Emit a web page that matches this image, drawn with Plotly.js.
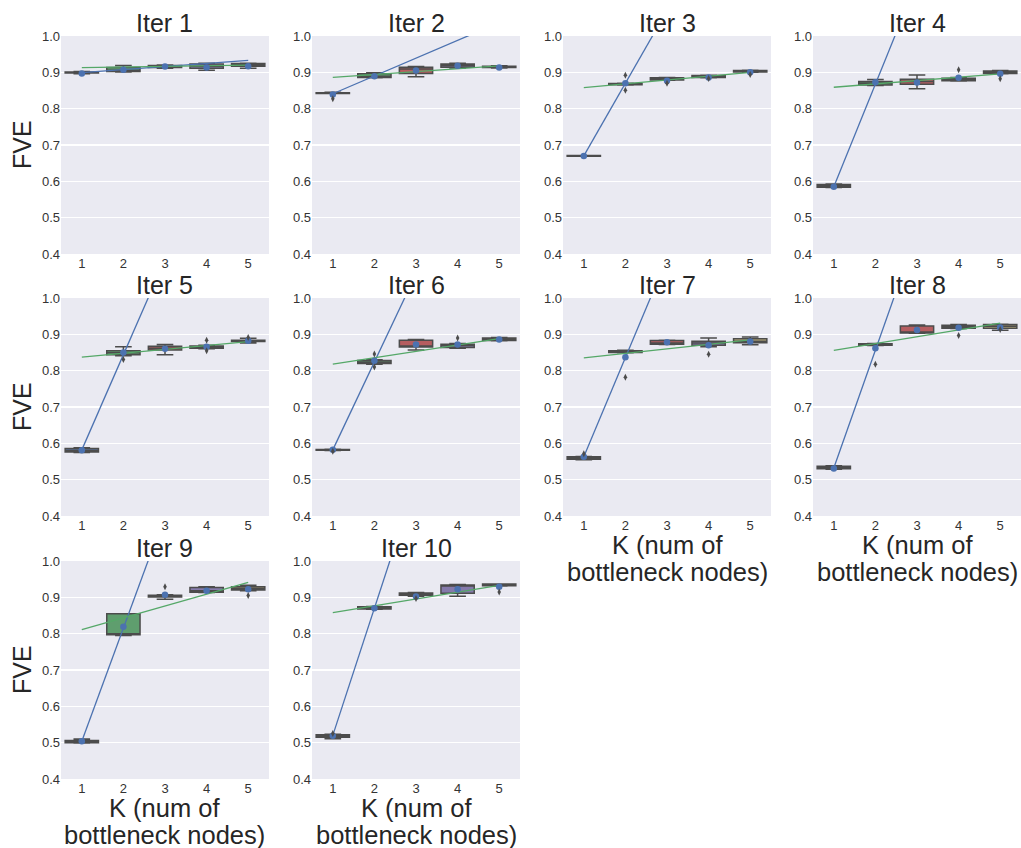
<!DOCTYPE html>
<html>
<head>
<meta charset="utf-8">
<script src="https://cdn.plot.ly/plotly-3.0.1.min.js"></script>
<style>html,body{margin:0;padding:0;background:#fff;}#chart{width:1021px;height:848px;}</style>
</head>
<body>
<div id="chart"></div>
<script>
// ---------------- data ----------------
const iterTitles = ['Iter 1','Iter 2','Iter 3','Iter 4','Iter 5','Iter 6','Iter 7','Iter 8','Iter 9','Iter 10'];
const kValues = [1, 2, 3, 4, 5];
const kLabels = ['1', '2', '3', '4', '5'];
const yTickVals = [0.4, 0.5, 0.6, 0.7, 0.8, 0.9, 1.0];
const yTickText = ['0.4', '0.5', '0.6', '0.7', '0.8', '0.9', '1.0'];
const yLabel = 'FVE';
const xLabelLine1 = 'K (num of';
const xLabelLine2 = 'bottleneck nodes)';

// per iteration, per K (1..5)
const q1 = [
  [0.898, 0.902, 0.913, 0.911, 0.917],
  [0.842, 0.886, 0.897, 0.914, 0.913],
  [0.669, 0.866, 0.879, 0.886, 0.901],
  [0.584, 0.865, 0.867, 0.877, 0.897],
  [0.576, 0.844, 0.857, 0.862, 0.880],
  [0.581, 0.820, 0.865, 0.864, 0.883],
  [0.556, 0.850, 0.873, 0.870, 0.877],
  [0.530, 0.870, 0.904, 0.917, 0.917],
  [0.500, 0.797, 0.901, 0.914, 0.920],
  [0.515, 0.868, 0.906, 0.911, 0.932]
];
const medians = [
  [0.899, 0.906, 0.916, 0.917, 0.920],
  [0.843, 0.889, 0.909, 0.919, 0.914],
  [0.670, 0.867, 0.880, 0.889, 0.903],
  [0.587, 0.870, 0.875, 0.880, 0.900],
  [0.580, 0.849, 0.862, 0.865, 0.882],
  [0.582, 0.823, 0.867, 0.869, 0.887],
  [0.559, 0.851, 0.876, 0.876, 0.881],
  [0.533, 0.872, 0.906, 0.921, 0.922],
  [0.503, 0.798, 0.903, 0.918, 0.924],
  [0.519, 0.870, 0.907, 0.931, 0.933]
];
const q3 = [
  [0.901, 0.913, 0.919, 0.923, 0.924],
  [0.844, 0.896, 0.914, 0.923, 0.917],
  [0.671, 0.869, 0.885, 0.891, 0.905],
  [0.591, 0.875, 0.881, 0.884, 0.904],
  [0.586, 0.855, 0.867, 0.868, 0.884],
  [0.583, 0.828, 0.884, 0.873, 0.890],
  [0.563, 0.855, 0.883, 0.881, 0.888],
  [0.537, 0.874, 0.923, 0.925, 0.927],
  [0.506, 0.855, 0.906, 0.927, 0.929],
  [0.522, 0.874, 0.912, 0.934, 0.937]
];
const whiskerLow = [
  [0.896, 0.901, 0.911, 0.906, 0.911],
  [0.842, 0.885, 0.888, 0.912, 0.912],
  [0.669, 0.865, 0.878, 0.885, 0.900],
  [0.583, 0.864, 0.855, 0.876, 0.896],
  [0.575, 0.841, 0.844, 0.860, 0.876],
  [0.580, 0.818, 0.857, 0.862, 0.882],
  [0.555, 0.849, 0.872, 0.866, 0.871],
  [0.529, 0.869, 0.903, 0.916, 0.911],
  [0.499, 0.795, 0.895, 0.913, 0.918],
  [0.511, 0.867, 0.903, 0.903, 0.931]
];
const whiskerHigh = [
  [0.902, 0.919, 0.920, 0.925, 0.925],
  [0.845, 0.899, 0.916, 0.925, 0.918],
  [0.671, 0.870, 0.886, 0.892, 0.906],
  [0.593, 0.880, 0.893, 0.886, 0.905],
  [0.588, 0.866, 0.872, 0.870, 0.889],
  [0.584, 0.830, 0.886, 0.875, 0.891],
  [0.564, 0.856, 0.884, 0.890, 0.893],
  [0.538, 0.875, 0.926, 0.927, 0.928],
  [0.510, 0.855, 0.907, 0.929, 0.933],
  [0.523, 0.875, 0.913, 0.935, 0.937]
];
const means = [
  [0.897, 0.907, 0.916, 0.913, 0.917],
  [0.839, 0.889, 0.905, 0.918, 0.913],
  [0.670, 0.870, 0.877, 0.886, 0.900],
  [0.585, 0.873, 0.872, 0.885, 0.896],
  [0.581, 0.850, 0.860, 0.866, 0.882],
  [0.582, 0.827, 0.872, 0.872, 0.886],
  [0.563, 0.837, 0.878, 0.870, 0.880],
  [0.531, 0.862, 0.912, 0.918, 0.919],
  [0.504, 0.819, 0.907, 0.918, 0.922],
  [0.519, 0.870, 0.902, 0.922, 0.929]
];
const outlierK = [
  [],
  [1],
  [2, 2, 3, 4, 5],
  [4, 5],
  [2, 4, 4, 5],
  [1, 2, 2, 4],
  [1, 2, 4],
  [2, 4, 5],
  [3, 5],
  [1, 3, 5]
];
const outlierVal = [
  [],
  [0.827],
  [0.892, 0.851, 0.870, 0.883, 0.894],
  [0.907, 0.882],
  [0.831, 0.884, 0.855, 0.891],
  [0.578, 0.846, 0.810, 0.890],
  [0.571, 0.782, 0.845],
  [0.818, 0.897, 0.913],
  [0.929, 0.905],
  [0.525, 0.897, 0.915]
];
// fit lines, values at K=1 and K=5
const fitX = [1, 5];
const blueFit = [
  [0.899, 0.933], [0.841, 1.037], [0.670, 1.470], [0.585, 1.715], [0.582, 1.630],
  [0.582, 1.550], [0.563, 1.655], [0.532, 1.830], [0.504, 1.750], [0.520, 1.920]
];
const greenFit = [
  [0.913, 0.920], [0.886, 0.918], [0.858, 0.900], [0.859, 0.896], [0.837, 0.880],
  [0.818, 0.888], [0.835, 0.885], [0.856, 0.931], [0.811, 0.941], [0.858, 0.933]
];

// ---------------- styles / layout ----------------
const W = 1021, H = 848;
const boxColors = ['#5975A4', '#5F9E6E', '#B55D60', '#857AAB', '#C1B37F'];
const edgeGray = '#4c4c4c';
const colPx = [61, 312, 563, 813];
const rowPx = [36, 298, 561];
const plotW = 208, plotH = 218;
const FONT = '"Liberation Sans", Arial, sans-serif';
const textColor = '#262626';
const tickColor = '#333333';
const xLabelPanels = [6, 7, 8, 9];

const traces = [];
const layout = {
  width: W, height: H,
  margin: {l: 0, r: 0, t: 0, b: 0},
  paper_bgcolor: '#ffffff',
  plot_bgcolor: '#EAEAF2',
  showlegend: false,
  boxmode: 'overlay',
  font: {family: FONT, color: textColor},
  annotations: []
};

iterTitles.forEach((title, i) => {
  const row = Math.floor(i / 4), col = i % 4;
  const x0 = colPx[col] / W, x1 = (colPx[col] + plotW) / W;
  const yTop = 1 - rowPx[row] / H, yBot = 1 - (rowPx[row] + plotH) / H;
  const n = i + 1;
  const xa = 'x' + (n === 1 ? '' : n), ya = 'y' + (n === 1 ? '' : n);
  layout['xaxis' + (n === 1 ? '' : n)] = {
    domain: [x0, x1], anchor: ya, range: [0.5, 5.5],
    tickvals: kValues, ticktext: kLabels, showgrid: false, zeroline: false,
    showline: false, ticks: '', tickfont: {size: 13, color: tickColor, family: FONT}, fixedrange: true
  };
  layout['yaxis' + (n === 1 ? '' : n)] = {
    domain: [yBot, yTop], anchor: xa, range: [0.4, 1.0],
    tickvals: yTickVals, ticktext: yTickText, showgrid: true, gridcolor: '#ffffff', gridwidth: 1.3,
    zeroline: false, showline: false, ticks: '', tickfont: {size: 13, color: tickColor, family: FONT}, fixedrange: true
  };
  // boxes
  kValues.forEach((k, j) => {
    traces.push({
      type: 'box', xaxis: xa, yaxis: ya, x: [k],
      q1: [q1[i][j]], median: [medians[i][j]], q3: [q3[i][j]],
      lowerfence: [whiskerLow[i][j]], upperfence: [whiskerHigh[i][j]],
      width: 0.8, whiskerwidth: 0.5, boxpoints: false,
      fillcolor: boxColors[j], line: {color: edgeGray, width: 1.5},
      hoverinfo: 'skip'
    });
  });
  // fit lines
  traces.push({type: 'scatter', mode: 'lines', xaxis: xa, yaxis: ya, x: fitX, y: blueFit[i],
    line: {color: '#4C72B0', width: 1.3}, hoverinfo: 'skip'});
  traces.push({type: 'scatter', mode: 'lines', xaxis: xa, yaxis: ya, x: fitX, y: greenFit[i],
    line: {color: '#55A868', width: 1.3}, hoverinfo: 'skip'});
  // means
  traces.push({type: 'scatter', mode: 'markers', xaxis: xa, yaxis: ya, x: kValues, y: means[i],
    marker: {color: '#4C72B0', size: 6.5}, hoverinfo: 'skip'});
  // outliers
  traces.push({type: 'scatter', mode: 'markers', xaxis: xa, yaxis: ya, x: outlierK[i], y: outlierVal[i],
    marker: {color: edgeGray, size: 5, symbol: 'diamond-tall'}, hoverinfo: 'skip'});

  const xc = (x0 + x1) / 2;
  layout.annotations.push({text: title, xref: 'paper', yref: 'paper', x: xc, y: yTop,
    xanchor: 'center', yanchor: 'bottom', yshift: -3, showarrow: false,
    font: {size: 25, color: textColor, family: FONT}});
  if (col === 0) {
    layout.annotations.push({text: yLabel, xref: 'paper', yref: 'paper', x: 22 / W, y: (yTop + yBot) / 2,
      xanchor: 'center', yanchor: 'middle', textangle: -90, showarrow: false,
      font: {size: 25, color: textColor, family: FONT}});
  }
  if (xLabelPanels.includes(i)) {
    layout.annotations.push({text: xLabelLine1, xref: 'paper', yref: 'paper', x: xc, y: yBot,
      xanchor: 'center', yanchor: 'middle', yshift: -29, showarrow: false,
      font: {size: 25.5, color: textColor, family: FONT}});
    layout.annotations.push({text: xLabelLine2, xref: 'paper', yref: 'paper', x: xc, y: yBot,
      xanchor: 'center', yanchor: 'middle', yshift: -56, showarrow: false,
      font: {size: 25.5, color: textColor, family: FONT}});
  }
});

Plotly.newPlot('chart', traces, layout, {displayModeBar: false, staticPlot: true});
</script>
</body>
</html>
